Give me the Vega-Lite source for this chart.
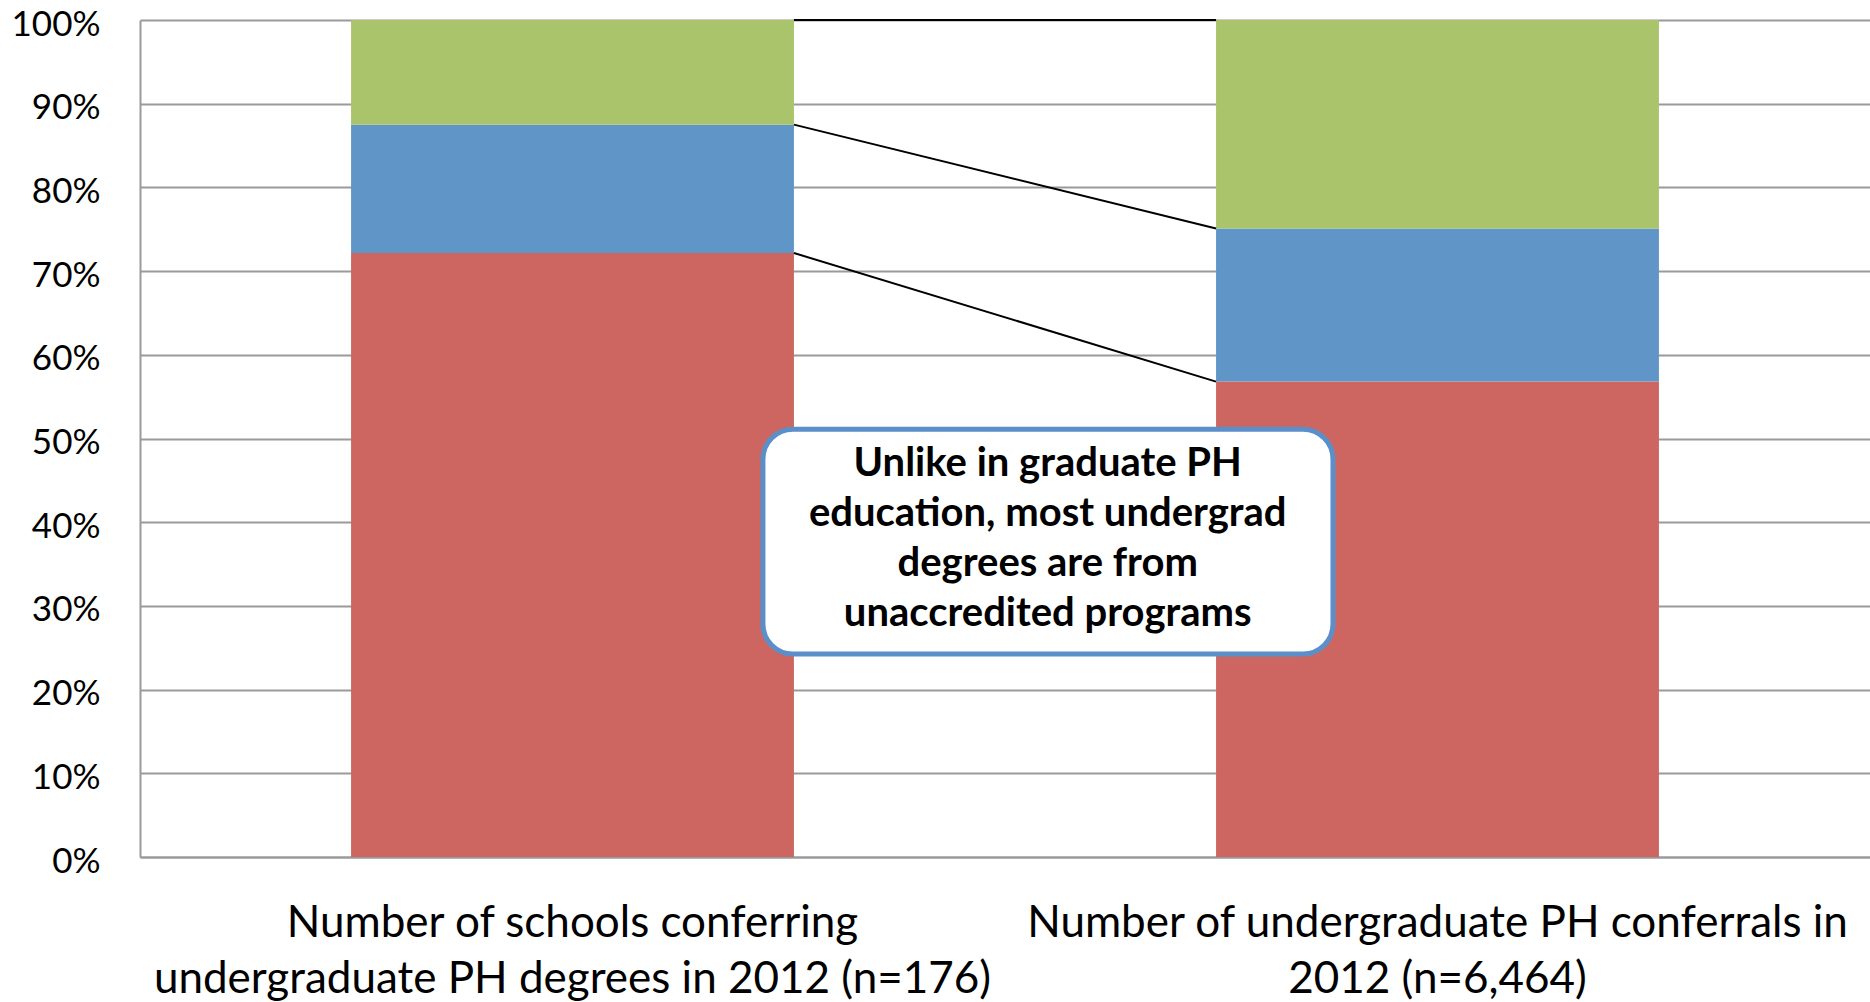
{
  "$schema": "https://vega.github.io/schema/vega-lite/v6.json",
  "width": 1730,
  "height": 837,
  "autosize": {"type": "none"},
  "padding": {"left": 140, "top": 20, "right": 0, "bottom": 145},
  "background": "white",
  "config": {
    "view": {"stroke": null},
    "font": "Lato"
  },
  "datasets": {
    "bars": [
      {"cat": "Number of schools conferring\nundergraduate PH degrees in 2012 (n=176)", "group": "Unaccredited", "rank": 1, "share": 0.7216},
      {"cat": "Number of schools conferring\nundergraduate PH degrees in 2012 (n=176)", "group": "Accredited program", "rank": 2, "share": 0.1534},
      {"cat": "Number of schools conferring\nundergraduate PH degrees in 2012 (n=176)", "group": "Accredited school", "rank": 3, "share": 0.125},
      {"cat": "Number of undergraduate PH conferrals in\n2012 (n=6,464)", "group": "Unaccredited", "rank": 1, "share": 0.568},
      {"cat": "Number of undergraduate PH conferrals in\n2012 (n=6,464)", "group": "Accredited program", "rank": 2, "share": 0.183},
      {"cat": "Number of undergraduate PH conferrals in\n2012 (n=6,464)", "group": "Accredited school", "rank": 3, "share": 0.249}
    ],
    "links": [
      {"from": "Number of schools conferring\nundergraduate PH degrees in 2012 (n=176)", "to": "Number of undergraduate PH conferrals in\n2012 (n=6,464)", "y1": 1.0, "y2": 1.0},
      {"from": "Number of schools conferring\nundergraduate PH degrees in 2012 (n=176)", "to": "Number of undergraduate PH conferrals in\n2012 (n=6,464)", "y1": 0.8750, "y2": 0.751},
      {"from": "Number of schools conferring\nundergraduate PH degrees in 2012 (n=176)", "to": "Number of undergraduate PH conferrals in\n2012 (n=6,464)", "y1": 0.7216, "y2": 0.568}
    ],
    "note": [
      {"from": "Number of schools conferring\nundergraduate PH degrees in 2012 (n=176)", "to": "Number of undergraduate PH conferrals in\n2012 (n=6,464)", "top": 0.511, "bottom": 0.2424, "first": 0.4695, "label": "Unlike in graduate PH\neducation, most undergrad\ndegrees are from\nunaccredited programs"}
    ]
  },
  "layer": [
    {
      "data": {"name": "bars"},
      "mark": {"type": "bar"},
      "encoding": {
        "x": {
          "field": "cat", "type": "nominal",
          "scale": {
            "domain": ["Number of schools conferring\nundergraduate PH degrees in 2012 (n=176)", "Number of undergraduate PH conferrals in\n2012 (n=6,464)"],
            "paddingInner": 0.488, "paddingOuter": 0.244
          },
          "axis": {
            "title": null, "labelAngle": 0, "ticks": false, "grid": false,
            "domainColor": "#9a9a9a", "domainWidth": 2,
            "labelFont": "Lato", "labelFontSize": 44, "labelColor": "#000000",
            "labelLineHeight": 56, "labelPadding": 66, "labelBaseline": "middle",
            "labelLimit": 0, "labelOverlap": false,
            "labelExpr": "split(datum.label, '\\n')"
          }
        },
        "y": {
          "field": "share", "type": "quantitative", "stack": "zero",
          "scale": {"domain": [0, 1], "nice": false},
          "axis": {
            "title": null, "format": ".0%", "values": [0, 0.1, 0.2, 0.3, 0.4, 0.5, 0.6, 0.7, 0.8, 0.9, 1.0],
            "ticks": false, "grid": true, "gridColor": "#9a9a9a", "gridWidth": 2,
            "domainColor": "#9a9a9a", "domainWidth": 2,
            "labelFont": "Lato", "labelFontSize": 35, "labelColor": "#000000", "labelPadding": 40,
            "labelOffset": 4
          }
        },
        "color": {
          "field": "group", "type": "nominal",
          "scale": {"domain": ["Unaccredited", "Accredited program", "Accredited school"], "range": ["#CD6660", "#6095C8", "#AAC46C"]},
          "legend": null
        },
        "order": {"field": "rank", "type": "quantitative"}
      }
    },
    {
      "data": {"name": "links"},
      "mark": {"type": "rule", "color": "#000000", "strokeWidth": 2},
      "encoding": {
        "x": {"field": "from", "type": "nominal", "bandPosition": 1},
        "x2": {"field": "to", "bandPosition": 0},
        "y": {"field": "y1", "type": "quantitative"},
        "y2": {"field": "y2"}
      }
    },
    {
      "data": {"name": "note"},
      "mark": {"type": "rect", "fill": "#6a6a6a", "opacity": 0.4, "cornerRadius": 30, "yOffset": 6, "xOffset": 1},
      "encoding": {
        "x": {"field": "from", "type": "nominal", "bandPosition": 0.93},
        "x2": {"field": "to", "bandPosition": 0.264},
        "y": {"field": "top", "type": "quantitative"},
        "y2": {"field": "bottom"}
      }
    },
    {
      "data": {"name": "note"},
      "mark": {"type": "rect", "fill": "#ffffff", "stroke": "#5B8FC9", "strokeWidth": 5, "cornerRadius": 30},
      "encoding": {
        "x": {"field": "from", "type": "nominal", "bandPosition": 0.93},
        "x2": {"field": "to", "bandPosition": 0.264},
        "y": {"field": "top", "type": "quantitative"},
        "y2": {"field": "bottom"}
      }
    },
    {
      "data": {"name": "note"},
      "mark": {"type": "text", "font": "Lato", "fontWeight": "bold", "fontSize": 40, "lineHeight": 50, "lineBreak": "\n", "align": "center", "baseline": "middle", "color": "#000000"},
      "encoding": {
        "x": {"field": "from", "type": "nominal", "bandPosition": 1.573},
        "y": {"field": "first", "type": "quantitative"},
        "text": {"field": "label"}
      }
    }
  ]
}
